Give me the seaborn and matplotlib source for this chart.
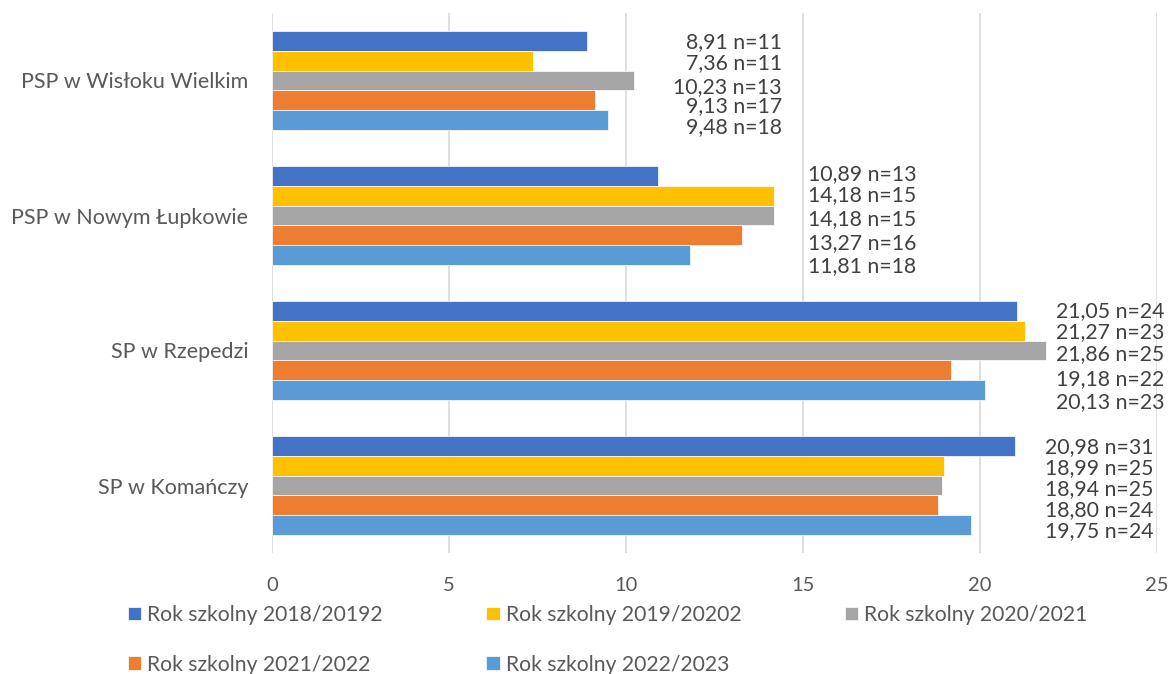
import numpy as np
import pandas as pd
import matplotlib
matplotlib.use("Agg")
import matplotlib.pyplot as plt
import seaborn as sns

# --- data ---
schools = ["PSP w Wisłoku Wielkim", "PSP w Nowym Łupkowie", "SP w Rzepedzi", "SP w Komańczy"]
years = ["Rok szkolny 2018/20192", "Rok szkolny 2019/20202", "Rok szkolny 2020/2021",
         "Rok szkolny 2021/2022", "Rok szkolny 2022/2023"]

# one list per school year, in the order of `schools`
y2018 = [8.91, 10.89, 21.05, 20.98]
y2019 = [7.36, 14.18, 21.27, 18.99]
y2020 = [10.23, 14.18, 21.86, 18.94]
y2021 = [9.13, 13.27, 19.18, 18.80]
y2022 = [9.48, 11.81, 20.13, 19.75]

n2018 = [11, 13, 24, 31]
n2019 = [11, 15, 23, 25]
n2020 = [13, 15, 25, 25]
n2021 = [17, 16, 22, 24]
n2022 = [18, 18, 23, 24]

colors = ["#4472C4", "#FFC000", "#A5A5A5", "#ED7D31", "#5B9BD5"]

# --- layout of the (hand-moved) value labels ---
label_right = [14.4, 18.2, 25.2, 24.9]          # right edge of label column per school
label_dy_px = [[1, 2, 7, 6, 7],
               [-2, -1, 4, 8, 11],
               [0, 1, 4, 9, 12],
               [1, 2, 4, 5, 6]]

values = [y2018, y2019, y2020, y2021, y2022]
counts = [n2018, n2019, n2020, n2021, n2022]

rows = []
for yi, year in enumerate(years):
    for si, school in enumerate(schools):
        rows.append({"school": school, "year": year, "value": values[yi][si]})
df = pd.DataFrame(rows)

sns.set_style("white")
plt.rcParams["font.family"] = ["Lato", "DejaVu Sans"]

fig = plt.figure(figsize=(11.71, 6.74), dpi=100)
ax = fig.add_axes([272 / 1171, 1 - 553 / 674, (1157 - 272) / 1171, 540 / 674])

sns.barplot(data=df, x="value", y="school", hue="year", order=schools, hue_order=years,
            palette=colors, orient="h", width=0.733, gap=0, saturation=1,
            edgecolor="white", linewidth=0.5, ax=ax)

ax.set_xlim(0, 25)
ax.set_xticks(range(0, 26, 5))
ax.set_xlabel("")
ax.set_ylabel("")
ax.grid(axis="x", color="#D9D9D9", linewidth=1.2)
ax.set_axisbelow(True)
for s in ax.spines.values():
    s.set_visible(False)
ax.tick_params(axis="x", length=0, pad=17, labelsize=14.5, labelcolor="#595959")
ax.tick_params(axis="y", length=0, pad=17, labelsize=15.5, labelcolor="#595959")

# value labels: "8,91 n=11"
for yi, cont in enumerate(ax.containers):
    for si, bar in enumerate(cont):
        yc = bar.get_y() + bar.get_height() / 2
        txt = f"{values[yi][si]:.2f}".replace(".", ",") + f" n={counts[yi][si]}"
        ax.annotate(txt, xy=(label_right[si], yc), xytext=(0, -label_dy_px[si][yi] * 0.72),
                    textcoords="offset points", ha="right", va="center",
                    fontsize=15.3, color="#404040", annotation_clip=False)

# legend: two rows, filled row-wise like Excel
handles, labels = ax.get_legend_handles_labels()
if ax.get_legend() is not None:
    ax.get_legend().remove()
order = [0, 3, 1, 4, 2]
fig.legend([handles[i] for i in order], [labels[i] for i in order],
           ncol=3, loc="upper left", bbox_to_anchor=(128 / 1171, 1 - 605 / 674),
           frameon=False, fontsize=15.2, labelcolor="#595959",
           handlelength=0.62, handleheight=0.62, handletextpad=0.3,
           columnspacing=4.9, labelspacing=1.4, borderpad=0, borderaxespad=0)

plt.savefig("out.png", dpi=100)
